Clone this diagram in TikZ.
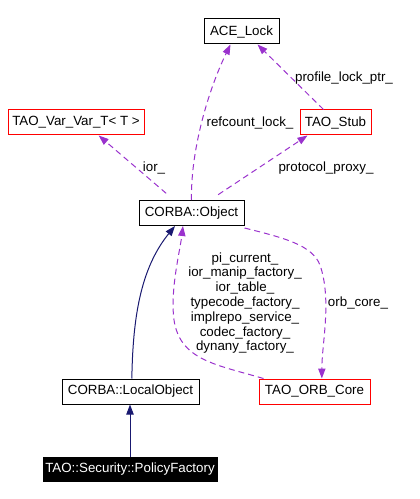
\documentclass[tikz,border=0pt]{standalone}
\usepackage{fontspec}
\setmainfont{Liberation Sans}
\usetikzlibrary{arrows.meta}
\definecolor{memberpurple}{HTML}{9A32CD}
\definecolor{inheritnavy}{HTML}{191970}
\tikzset{
    block/.style={rectangle, draw=black, line width=0.75pt, inner sep=0pt, align=center, minimum height=18.75pt, font=\fontsize{10}{11.1}\selectfont},
    refblock/.style={block, draw=red},
    curblock/.style={block, fill=black, text=white, minimum height=18pt},
    elabel/.style={inner sep=0pt, align=center, font=\fontsize{10}{11.1}\selectfont},
    member/.style={draw=memberpurple, line width=0.75pt, dash pattern=on 4.5pt off 3pt, -{Triangle[length=7.5pt, width=5.5pt, fill=memberpurple]}},
    inherit/.style={draw=inheritnavy, line width=0.75pt, -{Triangle[length=7.5pt, width=5.5pt, fill=inheritnavy]}}
}
\begin{document}
\begin{tikzpicture}[x=0.75pt, y=-0.75pt]
            \useasboundingbox (0,0) rectangle (419,499);
            % classes
            \node[block, minimum width=56.25pt] (acelock) at (241.5,31.5) {ACE\_Lock};
            \node[refblock, minimum width=102pt] (varvar) at (76,122.5) {TAO\_Var\_Var\_T< T >};
            \node[refblock, minimum width=53.25pt] (taostub) at (335.5,122.5) {TAO\_Stub};
            \node[block, minimum width=78.75pt] (corbaobject) at (191.5,213) {CORBA::Object};
            \node[block, minimum width=102.75pt] (localobject) at (130.5,391.5) {CORBA::LocalObject};
            \node[refblock, minimum width=83.25pt] (orbcore) at (314.5,391.5) {TAO\_ORB\_Core};
            \node[curblock, minimum width=130.5pt] (policyfactory) at (130,469) {TAO::Security::PolicyFactory};

            % labels
            \node[elabel] (lprofile) at (344,78) {profile\_lock\_ptr\_};
            \node[elabel] (lrefcount) at (250,123) {refcount\_lock\_};
            \node[elabel] (lior) at (154,168) {ior\_};
            \node[elabel] (lproxy) at (326,168) {protocol\_proxy\_};
            \node[elabel] (lorbcore) at (358,303) {orb\_core\_};
            \node[elabel] (lservices) at (245,303) {pi\_current\_\\ior\_manip\_factory\_\\ior\_table\_\\typecode\_factory\_\\implrepo\_service\_\\codec\_factory\_\\dynany\_factory\_};

            % members
            \path[member] ([xshift=-9pt]taostub.north) -- ([xshift=-16.5pt]acelock.south east);
            \path[member] (corbaobject.north) .. controls +(-1,-50) and +(-22,45) .. ([xshift=-8.25pt]acelock.south);
            \path[member] ([xshift=-19pt, yshift=5pt]corbaobject.north) -- ([xshift=17pt]varvar.south);
            \path[member] ([xshift=20pt, yshift=4pt]corbaobject.north) -- ([xshift=-21pt]taostub.south);
            \path[member] ([yshift=-1.5pt]corbaobject.south east) .. controls +(40,10) and +(-8,-20) .. (320,265) .. controls +(12,35) and +(0,-35) .. ([xshift=5.5pt]orbcore.north);
            \path[member] ([xshift=-38.25pt]orbcore.north) .. controls +(-48,-14) and +(6,40) .. (174,320) .. controls +(-4,-30) and +(-3,25) .. ([xshift=-6.4pt]corbaobject.south);

            % inheritance
            \path[inherit] ([xshift=1pt]localobject.north) .. controls +(1,-59) and +(-35,43) .. ([xshift=-12.4pt]corbaobject.south);
            \path[inherit] (policyfactory.north) -- (policyfactory.north |- localobject.south);
        \end{tikzpicture}
\end{document}
